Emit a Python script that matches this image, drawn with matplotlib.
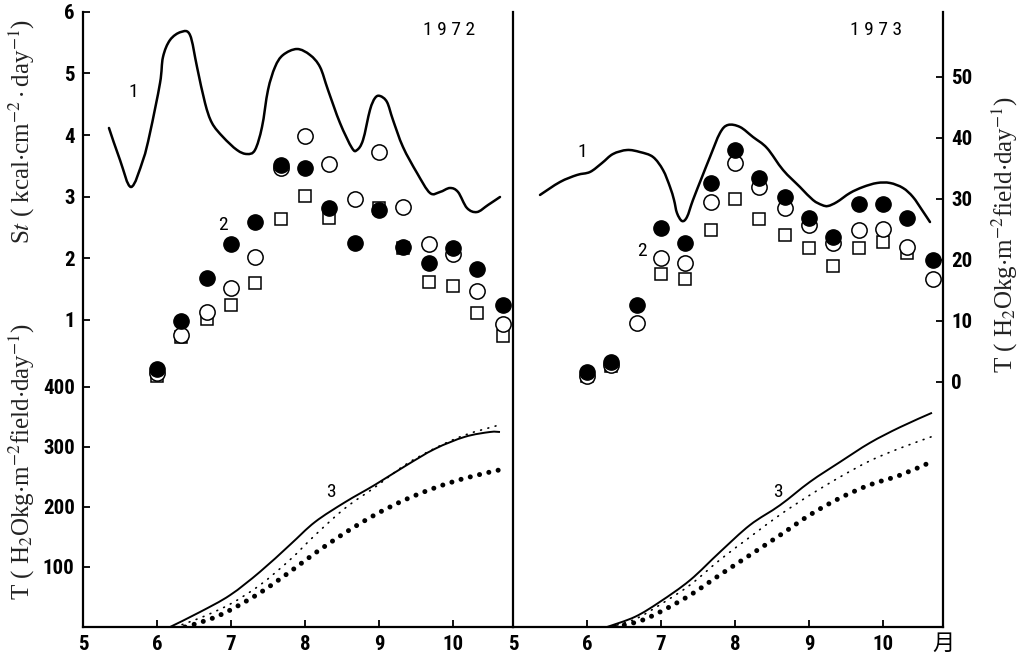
import matplotlib
matplotlib.use("Agg")
import matplotlib.pyplot as plt
import numpy as np
from matplotlib import font_manager
from matplotlib.transforms import blended_transform_factory
from matplotlib.path import Path
from matplotlib.patches import PathPatch

nan = float("nan")

# ---------------- data ----------------
months_ticks = [5, 6, 7, 8, 9, 10]
st_ticks = [1, 2, 3, 4, 5, 6]
cum_ticks = [100, 200, 300, 400]
daily_ticks = [0, 10, 20, 30, 40, 50]

dekads = [6.0, 6.33, 6.67, 7.0, 7.33, 7.67, 8.0, 8.33, 8.67, 9.0, 9.33, 9.67, 10.0, 10.33, 10.67]

# curve 1: solar radiation St (kcal cm-2 day-1)
st72_x = [5.351, 5.50, 5.649, 5.811, 5.905, 6.041, 6.081, 6.176, 6.324, 6.446, 6.541, 6.649,
          6.743, 6.892, 7.081, 7.216, 7.324, 7.419, 7.500, 7.595, 7.703, 7.892, 8.068, 8.203,
          8.311, 8.473, 8.635, 8.703, 8.784, 8.878, 8.946, 9.014, 9.108, 9.189, 9.324, 9.514,
          9.689, 9.824, 9.959, 10.068, 10.189, 10.324, 10.473, 10.635]
st72_y = [4.114, 3.595, 3.157, 3.595, 4.033, 4.844, 5.265, 5.541, 5.671, 5.622, 5.103, 4.519,
          4.195, 3.968, 3.757, 3.692, 3.757, 4.130, 4.730, 5.103, 5.298, 5.395, 5.298, 5.103,
          4.730, 4.195, 3.789, 3.757, 3.919, 4.406, 4.600, 4.633, 4.535, 4.244, 3.806, 3.384,
          3.060, 3.076, 3.141, 3.076, 2.816, 2.751, 2.865, 2.995]

st73_x = [5.365, 5.635, 5.865, 6.041, 6.203, 6.351, 6.541, 6.716, 6.892, 7.027, 7.122, 7.176,
          7.216, 7.284, 7.351, 7.432, 7.554, 7.662, 7.797, 7.905, 8.068, 8.243, 8.432, 8.649,
          8.878, 9.054, 9.176, 9.257, 9.378, 9.554, 9.730, 9.919, 10.095, 10.270, 10.405,
          10.527, 10.635]
st73_y = [3.028, 3.238, 3.352, 3.401, 3.546, 3.692, 3.757, 3.724, 3.644, 3.433, 3.157, 2.946,
          2.735, 2.605, 2.670, 2.946, 3.319, 3.644, 4.033, 4.163, 4.130, 3.968, 3.789, 3.433,
          3.157, 2.946, 2.865, 2.849, 2.914, 3.060, 3.157, 3.222, 3.222, 3.141, 2.995,
          2.784, 2.589]

# group 2: daily transpiration T (kg m-2 field day-1)
t72_filled = [2.1, 10.0, 17.0, 22.5, 26.1, 35.6, 35.1, 28.5, 22.8, 28.2, 22.1, 19.5, 22.0, 18.4, 12.5]
t72_open   = [1.5, 7.6, 11.5, 15.4, 20.5, 35.0, 40.2, 35.7, 30.0, 37.7, 28.7, 22.5, 21.0, 14.8, 9.5]
t72_square = [1.0, 7.4, 10.2, 12.5, 16.1, 26.7, 30.5, 26.9, nan, 28.5, 22.0, 16.4, 15.7, 11.3, 7.5]

t73_filled = [1.6, 3.3, 12.5, 25.2, 22.8, 32.6, 38.0, 33.4, 30.2, 26.9, 23.8, 29.2, 29.2, 26.9, 20.0]
t73_open   = [1.0, 2.8, 9.7, 20.2, 19.5, 29.5, 35.9, 32.0, 28.5, 25.7, 22.8, 24.9, 25.1, 22.1, 16.9]
t73_square = [0.9, 2.6, nan, 17.7, 16.9, 24.9, 30.0, 26.6, 24.1, 22.0, 19.0, 22.0, 22.9, 21.1, nan]

# group 3: cumulative transpiration
c72_solid_x = [6.176, 6.581, 6.986, 7.392, 7.797, 8.135, 8.541, 8.946, 9.351, 9.757, 10.162, 10.50, 10.635]
c72_solid_y = [0, 25, 53, 92, 137, 175, 208, 237, 268, 297, 317, 325, 325]
c72_dot_x = [6.243, 6.581, 6.986, 7.392, 7.797, 8.135, 8.541, 8.946, 9.351, 9.757, 10.162, 10.635]
c72_dot_y = [0, 15, 38, 70, 112, 153, 198, 233, 270, 298, 320, 337]
c72_big_x = [6.378, 6.716, 6.986, 7.392, 7.797, 8.135, 8.541, 8.946, 9.351, 9.757, 10.162, 10.635]
c72_big_y = [0, 13, 28, 57, 92, 123, 157, 187, 212, 232, 248, 262]

c73_solid_x = [6.270, 6.649, 6.986, 7.392, 7.797, 8.203, 8.608, 9.014, 9.419, 9.824, 10.230, 10.662]
c73_solid_y = [0, 17, 42, 78, 125, 170, 203, 242, 275, 307, 333, 357]
c73_dot_x = [6.311, 6.649, 6.986, 7.392, 7.797, 8.203, 8.608, 9.014, 9.419, 9.824, 10.230, 10.676]
c73_dot_y = [0, 13, 37, 70, 112, 150, 187, 220, 250, 277, 298, 318]
c73_big_x = [6.378, 6.716, 6.986, 7.392, 7.797, 8.203, 8.608, 9.014, 9.419, 9.824, 10.230, 10.649]
c73_big_y = [0, 10, 25, 53, 87, 120, 153, 187, 215, 237, 253, 275]

# ---------------- fonts ----------------
names = {f.name for f in font_manager.fontManager.ttflist}
COND = next((n for n in ["Liberation Sans Narrow", "Roboto Condensed", "Roboto"] if n in names), "DejaVu Sans")
SERIF = "Liberation Serif" if "Liberation Serif" in names else "DejaVu Serif"
plt.rcParams["mathtext.fontset"] = "stix"
plt.rcParams["font.family"] = [COND, "DejaVu Sans"]

W, H = 1023, 660
fig = plt.figure(figsize=(W / 100, H / 100), dpi=100)
fig.patch.set_facecolor("white")

bottom = (H - 627) / H
height = (627 - 11.7) / H
axL = fig.add_axes([83 / W, bottom, (513 - 83) / W, height])
axR = fig.add_axes([513 / W, bottom, (943 - 513) / W, height])
axL.patch.set_visible(False)
axR.patch.set_visible(False)

XMAX = 5 + 430 / 74.0
ST_LIM = (6 - (627 - 11.7) / 61.66, 6.0)
DAILY_LIM = ((381.7 - 627) / 6.1, (381.7 - 11.7) / 6.1)
CUM_LIM = (0, (627 - 11.7) / 0.6)

TICKFS = 15
TW = "bold"
SPW = 1.6


def base(ax):
    ax.set_xlim(5, XMAX)
    ax.set_ylim(*ST_LIM)
    ax.spines["top"].set_visible(False)
    for s in ("left", "right", "bottom"):
        ax.spines[s].set_linewidth(SPW)
    ax.set_xticks(months_ticks)
    ax.set_xticklabels([str(m) for m in months_ticks], fontweight=TW)
    ax.tick_params(axis="x", direction="in", length=5, width=1.3, labelsize=TICKFS, pad=5.5)
    d = ax.twinx()
    d.set_ylim(*DAILY_LIM)
    c = ax.twinx()
    c.set_ylim(*CUM_LIM)
    for t in (d, c):
        t.patch.set_visible(False)
        for s in t.spines.values():
            s.set_visible(False)
        t.set_yticks([])
    return d, c


dL, cL = base(axL)
dR, cR = base(axR)

# left panel axes styling
axL.set_yticks(st_ticks)
axL.set_yticklabels([str(v) for v in st_ticks], fontweight=TW)
axL.tick_params(axis="y", direction="in", length=5, width=1.3, labelsize=TICKFS, pad=6)
axL.tick_params(axis="y", right=False)
cL.yaxis.set_ticks_position("left")
cL.set_yticks(cum_ticks)
cL.set_yticklabels([str(v) for v in cum_ticks], fontweight=TW)
cL.tick_params(axis="y", direction="in", length=5, width=1.3, labelsize=TICKFS, pad=6)

# right panel axes styling
axR.spines["left"].set_visible(False)
axR.spines["right"].set_visible(False)
axR.set_yticks([])
dR.spines["right"].set_visible(True)
dR.spines["right"].set_linewidth(SPW)
dR.set_yticks(daily_ticks)
dR.set_yticklabels([str(v) for v in daily_ticks], fontweight=TW)
dR.tick_params(axis="y", direction="in", length=5, width=1.3, labelsize=TICKFS, pad=6)


def smooth_line(ax, xs, ys, **kw):
    """Draw a smooth (Catmull-Rom / cubic Bezier) path through the given points."""
    p = np.column_stack([xs, ys]).astype(float)
    n = len(p)
    verts = [tuple(p[0])]
    codes = [Path.MOVETO]
    for i in range(n - 1):
        p0 = p[i - 1] if i > 0 else p[i]
        p1, p2 = p[i], p[i + 1]
        p3 = p[i + 2] if i + 2 < n else p[i + 1]
        c1 = p1 + (p2 - p0) / 6.0
        c2 = p2 - (p3 - p1) / 6.0
        verts += [tuple(c1), tuple(c2), tuple(p2)]
        codes += [Path.CURVE4] * 3
    patch = PathPatch(Path(verts, codes), fill=False, edgecolor="black", **kw)
    ax.add_patch(patch)
    return patch


def draw(ax, d, c, stx, sty, tf, to, ts, csx, csy, cdx, cdy, cbx, cby):
    smooth_line(ax, stx, sty, lw=1.8, capstyle="round", joinstyle="round", zorder=2)
    d.plot(dekads, ts, ls="none", marker="s", ms=9.2, mfc="white", mec="black", mew=1.1, zorder=3)
    d.plot(dekads, to, ls="none", marker="o", ms=11.0, mfc="white", mec="black", mew=1.1, zorder=4)
    d.plot(dekads, tf, ls="none", marker="o", ms=11.0, mfc="black", mec="black", mew=1.0, zorder=5)
    smooth_line(c, csx, csy, lw=1.4, zorder=2)
    smooth_line(c, cdx, cdy, lw=1.2, linestyle=(0, (0.5, 4.0)), capstyle="round", zorder=2)
    smooth_line(c, cbx, cby, lw=3.6, linestyle=(0, (0.01, 1.9)), capstyle="round", zorder=2)


draw(axL, dL, cL, st72_x, st72_y, t72_filled, t72_open, t72_square,
     c72_solid_x, c72_solid_y, c72_dot_x, c72_dot_y, c72_big_x, c72_big_y)
draw(axR, dR, cR, st73_x, st73_y, t73_filled, t73_open, t73_square,
     c73_solid_x, c73_solid_y, c73_dot_x, c73_dot_y, c73_big_x, c73_big_y)

# curve labels and year labels
lab = dict(fontsize=14, ha="center", va="center", zorder=6)
axL.text(5.68, 4.70, "1", **lab)
axL.text(6.89, 2.54, "2", **lab)
axL.text(8.35, -1.79, "3", **lab)
axR.text(5.93, 3.72, "1", **lab)
axR.text(6.74, 2.12, "2", **lab)
axR.text(8.58, -1.79, "3", **lab)
axL.text(9.95, 5.70, "1 9 7 2", fontsize=14, ha="center", va="center")
axR.text(9.90, 5.70, "1 9 7 3", fontsize=14, ha="center", va="center")

# month unit
tr = blended_transform_factory(axR.transData, axR.transAxes)
axR.text(XMAX, -0.008, "月", transform=tr, ha="center", va="top", fontsize=16,
         family=["Noto Sans CJK JP", "DejaVu Sans"])

# axis titles
lblT = r"T ( H$_2$Okg$\cdot$m$^{-2}$field$\cdot$day$^{-1}$)"
lblS = r"S$t$ ( kcal$\cdot$cm$^{-2}\cdot$day$^{-1}$)"
kw = dict(rotation=90, ha="center", va="center", fontsize=18,
          family=[SERIF, "DejaVu Serif"], color="#222222")
fig.text(22 / W, 1 - 131 / H, lblS, **kw)
fig.text(22 / W, 1 - 462 / H, lblT, **kw)
fig.text(1005 / W, 1 - 235 / H, lblT, **kw)

fig.savefig("out.png", dpi=100, facecolor="white")
